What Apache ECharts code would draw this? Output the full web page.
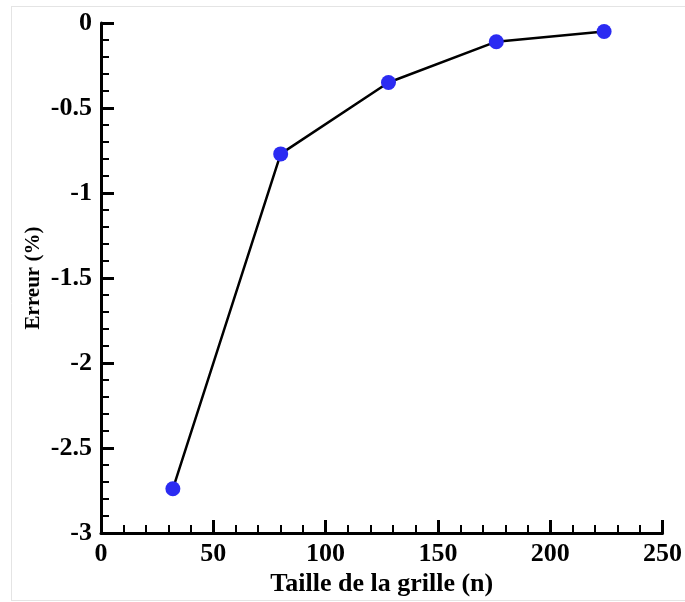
<!DOCTYPE html>
<html>
<head>
<meta charset="utf-8">
<script src="https://cdn.jsdelivr.net/npm/echarts@6/dist/echarts.min.js"></script>
<style>
  html, body { margin: 0; padding: 0; background: #ffffff; }
  #chart { width: 685px; height: 602px; }
</style>
</head>
<body>
<div id="chart"></div>
<script>
// Grid size n and the corresponding relative error (%)
const gridSizes = [32, 80, 128, 176, 224];
const errorPct = [-2.74, -0.77, -0.35, -0.11, -0.05];

const xTitle = 'Taille de la grille (n)';
const yTitle = 'Erreur (%)';

const serif = '"Liberation Serif", "DejaVu Serif", serif';

const chart = echarts.init(document.getElementById('chart'), null, { renderer: 'canvas' });

const axisCommon = {
  type: 'value',
  splitLine: { show: false },
  axisLine: { show: true, onZero: false, lineStyle: { color: '#000', width: 3 } },
  axisTick: { show: true, inside: true, length: 13, lineStyle: { color: '#000', width: 3 } },
  minorTick: { show: true, splitNumber: 5, length: 8, lineStyle: { color: '#000', width: 2 } },
  minorSplitLine: { show: false },
  nameLocation: 'middle',
  nameMoveOverlap: false,
  nameTextStyle: { fontFamily: serif, fontWeight: 'bold', color: '#000' },
  axisLabel: { fontFamily: serif, fontWeight: 'bold', fontSize: 26, color: '#000' }
};

chart.setOption({
  animation: false,
  backgroundColor: '#ffffff',
  grid: { left: 101, right: 22, top: 23, bottom: 68, containLabel: false },
  graphic: [
    { type: 'line', shape: { x1: 11, y1: 6.5, x2: 685, y2: 6.5 }, style: { stroke: '#e4e4e4', lineWidth: 1 } },
    { type: 'line', shape: { x1: 11.5, y1: 6, x2: 11.5, y2: 601 }, style: { stroke: '#e4e4e4', lineWidth: 1 } },
    { type: 'line', shape: { x1: 11, y1: 600.5, x2: 685, y2: 600.5 }, style: { stroke: '#e4e4e4', lineWidth: 1 } }
  ],
  xAxis: Object.assign({}, axisCommon, {
    min: 0, max: 250, interval: 50,
    name: xTitle, nameGap: 38,
    nameTextStyle: Object.assign({}, axisCommon.nameTextStyle, { fontSize: 26 }),
    axisLabel: Object.assign({}, axisCommon.axisLabel, { margin: 8 })
  }),
  yAxis: Object.assign({}, axisCommon, {
    min: -3, max: 0, interval: 0.5,
    name: yTitle, nameGap: 57,
    nameTextStyle: Object.assign({}, axisCommon.nameTextStyle, { fontSize: 21 }),
    axisLabel: Object.assign({}, axisCommon.axisLabel, { margin: 9 })
  }),
  series: [{
    type: 'line',
    data: gridSizes.map((n, i) => [n, errorPct[i]]),
    symbol: 'circle',
    symbolSize: 15,
    lineStyle: { color: '#000', width: 2.5 },
    itemStyle: { color: '#2b2bf2' },
    z: 3
  }]
});
</script>
</body>
</html>
